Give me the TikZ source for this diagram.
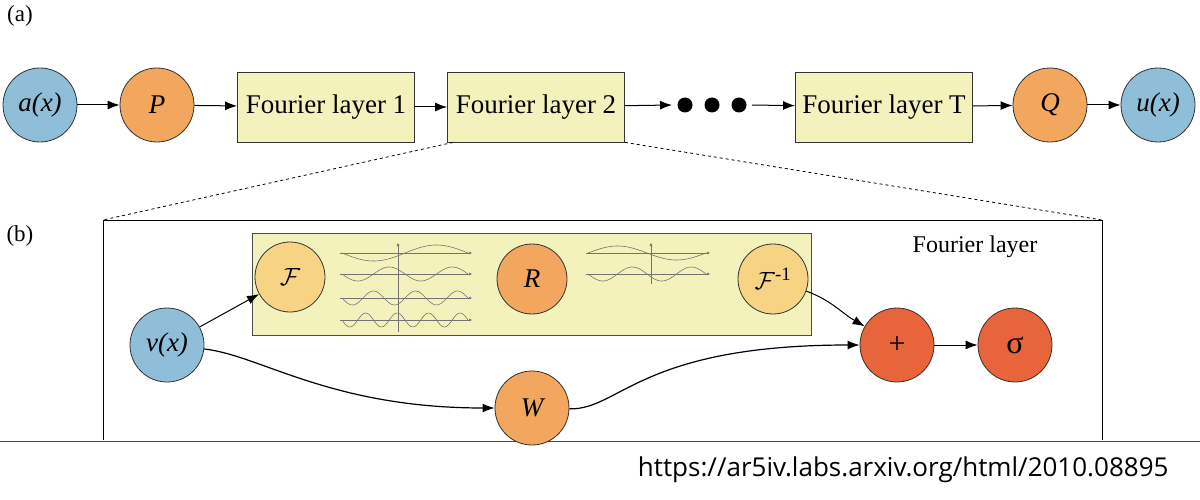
\documentclass[tikz,border=0pt]{standalone}
\usepackage{fontspec}
\usepackage{amsmath,amssymb}
\setmainfont{Liberation Serif}
\newfontfamily\urlfont{Open Sans}
\usetikzlibrary{arrows.meta}
\definecolor{cblue}{HTML}{8FBFD8}
\definecolor{corange}{HTML}{F2A65E}
\definecolor{cyell}{HTML}{F4F2BC}
\definecolor{cfour}{HTML}{F6D484}
\definecolor{cred}{HTML}{E8643A}
\begin{document}
\begin{tikzpicture}[x=1pt,y=-1pt,
  circ/.style={circle,draw=black!80,line width=0.8pt,minimum size=74pt,inner sep=0pt,font=\fontsize{27}{29}\selectfont\itshape},
  layer/.style={draw=black!80,line width=0.8pt,fill=cyell,minimum width=177pt,minimum height=70pt,inner sep=0pt,font=\fontsize{27}{29}\selectfont},
  arr/.style={-{Latex[length=12pt,width=9pt]},line width=1pt},
  wave/.style={black!55,line width=0.6pt},
  ax/.style={black!55,line width=0.5pt,-{Latex[length=3pt,width=3pt]}}]
\useasboundingbox[fill=white] (0,0) rectangle (1200,500);
\node[font=\fontsize{23}{25}\selectfont] at (20,16) {(a)};
\node[font=\fontsize{23}{25}\selectfont] at (20,236) {(b)};
\node[circ,fill=cblue] (a) at (40,105) {a(x)};
\node[circ,fill=corange] (P) at (157,105) {P};
\node[layer] (L1) at (326,107) {Fourier layer 1};
\node[layer] (L2) at (536,107) {Fourier layer 2};
\foreach \x in {685,712,739} \fill (\x,105) circle (7.5pt);
\node[layer] (LT) at (884,107) {Fourier layer T};
\node[circ,fill=corange] (Q) at (1050,105) {Q};
\node[circ,fill=cblue] (u) at (1158,105) {u(x)};
\coordinate (d1) at (672,105); \coordinate (d2) at (752,105);
\draw[arr] (a) -- (P); \draw[arr] (P) -- (L1); \draw[arr] (L1) -- (L2);
\draw[arr] (L2) -- (d1); \draw[arr] (d2) -- (LT); \draw[arr] (LT) -- (Q); \draw[arr] (Q) -- (u);
% part b
\draw[line width=0.9pt] (103,440) -- (103,220) -- (1102,220) -- (1102,440);
\draw[line width=0.9pt,black!70] (0,441) -- (1200,441);
\draw[dashed,line width=0.8pt] (L2.south west) ++(6,0) -- (103,220);
\draw[dashed,line width=0.8pt] (L2.south east) -- (1102,220);
\node[font=\fontsize{24}{26}\selectfont] at (975,247) {Fourier layer};
\node[draw=black!70,line width=0.8pt,fill=cyell,minimum width=559pt,minimum height=102pt] (yb) at (532,284) {};
\node[circ,fill=cfour,minimum size=70pt] (F) at (290,277) {$\mathcal{F}$};
\node[circ,fill=corange,minimum size=70pt] (R) at (532,279) {R};
\node[circ,fill=cfour,minimum size=70pt] (Fi) at (773,279) {$\mathcal{F}^{\text{\upshape -1}}$};
\node[circ,fill=cblue] (v) at (167,345) {v(x)};
\node[circ,fill=corange] (W) at (532,408) {W};
\node[circ,fill=cred,font=\fontsize{30}{32}\selectfont] (plus) at (897,345) {+};
\node[circ,fill=cred,font=\fontsize{32}{34}\selectfont\upshape] (sig) at (1015,345) {σ};
% waves left
\foreach \y/\k/\amp in {253/1/8,274/2/7,298/3/7,320/4/7}{
  \draw[ax] (340,\y) -- (472,\y);
  \draw[wave,domain=0:1,samples=80] plot ({342+126*\x},{\y+\amp*sin(180*\k*\x*2)});
}
\draw[ax] (398,332) -- (398,243);
% waves right
\draw[ax] (586,253) -- (710,253);
\draw[ax] (586,274) -- (710,274);
\draw[wave,domain=0:1,samples=80] plot ({588+118*\x},{253-7*sin(360*\x)});
\draw[wave,domain=0:1,samples=80] plot ({588+118*\x},{274+7*sin(720*\x)});
\draw[ax] (651,284) -- (651,243);
% connectors
\draw[arr] (v) -- (F);
\draw[arr] (Fi) to[out=-20,in=150] (plus);
\draw[arr,line width=1.2pt] (v) .. controls (260,355) and (330,408) .. (W);
\draw[arr,line width=1.2pt] (W) .. controls (620,410) and (640,345) .. (plus);
\draw[arr] (plus) -- (sig);
\node[anchor=east,font=\urlfont\fontsize{26}{28}\selectfont] at (1172,470) {https://ar5iv.labs.arxiv.org/html/2010.08895};
\end{tikzpicture}
\end{document}
